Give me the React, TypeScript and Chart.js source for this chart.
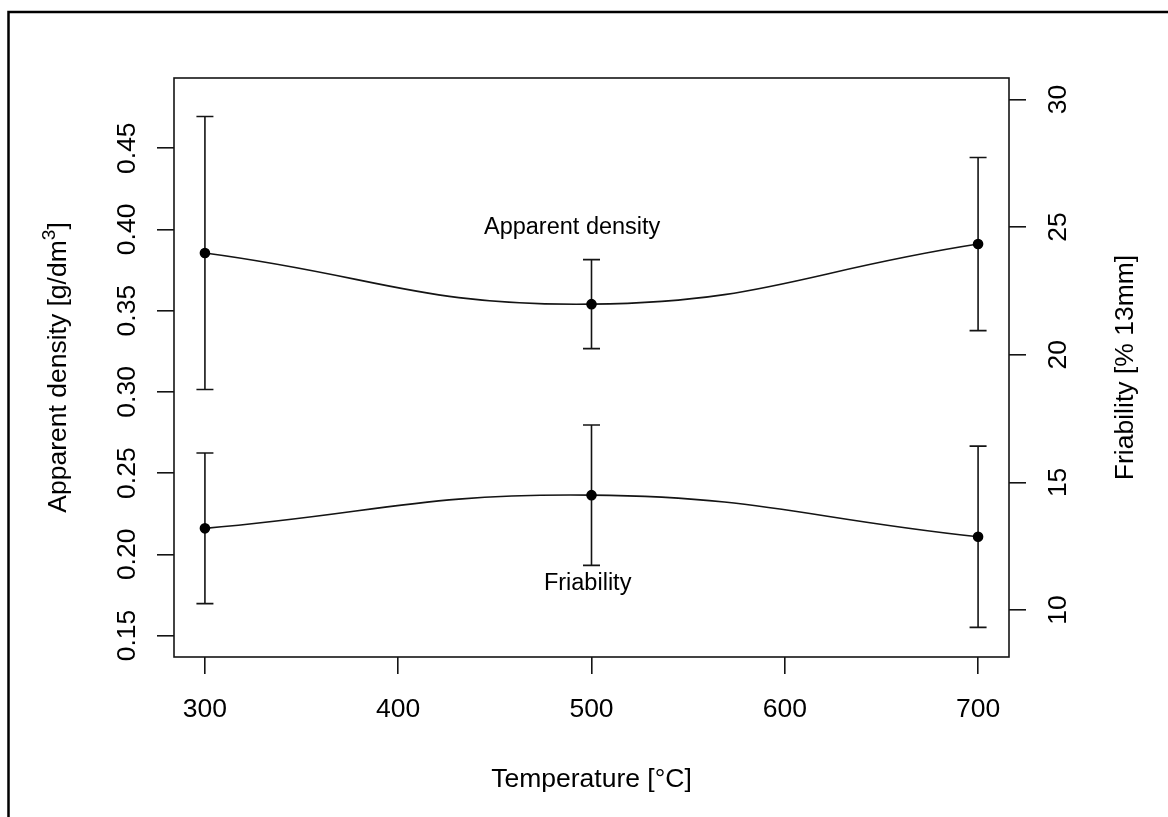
import { useEffect, useRef } from "react";
import { Chart, registerables } from "chart.js";

Chart.register(...registerables);

// Temperatures at which the material was characterised
const temperatures = [300, 500, 700];

// Apparent density (left axis) — mean and standard deviation
const densityMean = [0.3855, 0.354, 0.391];
const densitySd = [0.084, 0.0274, 0.0533];

// Friability (right axis) — mean and standard deviation
const friabilityMean = [13.2, 14.5, 12.87];
const friabilitySd = [2.95, 2.75, 3.55];

// Axis ticks and their labels
const xTicks = [300, 400, 500, 600, 700];
const xTickLabels = ["300", "400", "500", "600", "700"];
const densityTicks = [0.15, 0.2, 0.25, 0.3, 0.35, 0.4, 0.45];
const densityTickLabels = ["0.15", "0.20", "0.25", "0.30", "0.35", "0.40", "0.45"];
const friabilityTicks = [10, 15, 20, 25, 30];
const friabilityTickLabels = ["10", "15", "20", "25", "30"];

const W = 1168;
const H = 817;
const INK = "#141414";
const FONT = "'Liberation Sans', Arial, Helvetica, sans-serif";
const AXIS_PX = 26.5;
const NOTE_PX = 23.5;

function drawRotated(ctx: CanvasRenderingContext2D, text: string, x: number, y: number) {
  ctx.save();
  ctx.translate(x, y);
  ctx.rotate(-Math.PI / 2);
  ctx.textAlign = "center";
  ctx.textBaseline = "alphabetic";
  ctx.fillText(text, 0, 0);
  ctx.restore();
}

const plotDecor = {
  id: "plotDecor",
  beforeDraw(chart: any) {
    const { ctx } = chart;
    ctx.save();
    ctx.fillStyle = "#fff";
    ctx.fillRect(0, 0, W, H);
    // outer figure frame
    ctx.strokeStyle = "#000";
    ctx.lineWidth = 2.5;
    ctx.beginPath();
    ctx.moveTo(8.5, H + 5);
    ctx.lineTo(8.5, 12);
    ctx.lineTo(W + 5, 12);
    ctx.stroke();
    ctx.restore();
  },
  beforeDatasetsDraw(chart: any) {
    const { ctx } = chart;
    ctx.save();
    ctx.strokeStyle = INK;
    ctx.lineWidth = 1.6;
    chart.data.datasets.forEach((ds: any) => {
      const yScale = chart.scales[ds.yAxisID];
      const xScale = chart.scales.x;
      ds.data.forEach((p: any, i: number) => {
        const sd = ds.errors[i];
        const px = xScale.getPixelForValue(p.x);
        const top = yScale.getPixelForValue(p.y + sd);
        const bot = yScale.getPixelForValue(p.y - sd);
        const cap = 8.5;
        ctx.beginPath();
        ctx.moveTo(px, top);
        ctx.lineTo(px, bot);
        ctx.moveTo(px - cap, top);
        ctx.lineTo(px + cap, top);
        ctx.moveTo(px - cap, bot);
        ctx.lineTo(px + cap, bot);
        ctx.stroke();
      });
    });
    ctx.restore();
  },
  afterDraw(chart: any) {
    const { ctx, chartArea: a, scales } = chart;
    ctx.save();
    // plot box
    ctx.strokeStyle = INK;
    ctx.lineWidth = 1.6;
    ctx.strokeRect(a.left, a.top, a.right - a.left, a.bottom - a.top);

    ctx.fillStyle = "#000";
    ctx.font = `${AXIS_PX}px ${FONT}`;

    // bottom tick labels
    ctx.textAlign = "center";
    ctx.textBaseline = "alphabetic";
    xTicks.forEach((v, i) => {
      ctx.fillText(xTickLabels[i], scales.x.getPixelForValue(v), a.bottom + 60);
    });
    // left tick labels (parallel to the axis)
    densityTicks.forEach((v, i) => {
      drawRotated(ctx, densityTickLabels[i], a.left - 39, scales.y.getPixelForValue(v));
    });
    // right tick labels
    friabilityTicks.forEach((v, i) => {
      drawRotated(ctx, friabilityTickLabels[i], a.right + 57, scales.y1.getPixelForValue(v));
    });

    const midX = (a.left + a.right) / 2;
    const midY = (a.top + a.bottom) / 2;

    // x-axis title
    ctx.textAlign = "center";
    ctx.fillText("Temperature [°C]", midX, a.bottom + 130);

    // left axis title with superscript exponent
    {
      const main = "Apparent density [g/dm";
      const close = "]";
      const supFont = `${AXIS_PX * 0.72}px ${FONT}`;
      const wMain = ctx.measureText(main).width;
      const wClose = ctx.measureText(close).width;
      ctx.font = supFont;
      const wSup = ctx.measureText("3").width;
      const total = wMain + wSup + wClose;
      ctx.save();
      ctx.translate(a.left - 108, midY);
      ctx.rotate(-Math.PI / 2);
      ctx.textAlign = "left";
      ctx.textBaseline = "alphabetic";
      let x0 = -total / 2;
      ctx.font = `${AXIS_PX}px ${FONT}`;
      ctx.fillText(main, x0, 0);
      x0 += wMain;
      ctx.font = supFont;
      ctx.fillText("3", x0, -11);
      x0 += wSup;
      ctx.font = `${AXIS_PX}px ${FONT}`;
      ctx.fillText(close, x0, 0);
      ctx.restore();
    }

    // right axis title
    ctx.font = `${AXIS_PX}px ${FONT}`;
    drawRotated(ctx, "Friability [% 13mm]", a.right + 124, midY);

    // curve annotations
    ctx.font = `${NOTE_PX}px ${FONT}`;
    ctx.textAlign = "center";
    ctx.textBaseline = "middle";
    ctx.fillText("Apparent density", scales.x.getPixelForValue(490), scales.y.getPixelForValue(0.401));
    ctx.fillText("Friability", scales.x.getPixelForValue(498), scales.y1.getPixelForValue(11.05));
    ctx.restore();
  },
};

const tickGrid = {
  display: true,
  drawOnChartArea: false,
  drawTicks: true,
  tickLength: 17,
  color: INK,
  lineWidth: 1.6,
};

export default function App() {
  const canvasRef = useRef<HTMLCanvasElement | null>(null);

  useEffect(() => {
    const canvas = canvasRef.current;
    if (!canvas) return;
    const chart = new Chart(canvas, {
      type: "line",
      data: {
        datasets: [
          {
            label: "Apparent density",
            data: temperatures.map((t, i) => ({ x: t, y: densityMean[i] })),
            errors: densitySd,
            yAxisID: "y",
            borderColor: INK,
            borderWidth: 1.6,
            backgroundColor: "#000",
            pointBackgroundColor: "#000",
            pointBorderColor: "#000",
            pointRadius: 4.5,
            tension: 0.45,
            fill: false,
          },
          {
            label: "Friability",
            data: temperatures.map((t, i) => ({ x: t, y: friabilityMean[i] })),
            errors: friabilitySd,
            yAxisID: "y1",
            borderColor: INK,
            borderWidth: 1.6,
            backgroundColor: "#000",
            pointBackgroundColor: "#000",
            pointBorderColor: "#000",
            pointRadius: 4.5,
            tension: 0.45,
            fill: false,
          },
        ] as any,
      },
      options: {
        responsive: false,
        animation: false,
        devicePixelRatio: 1,
        layout: { padding: { top: 78, left: 0, right: 0, bottom: 0 } },
        plugins: {
          legend: { display: false },
          tooltip: { enabled: false },
        },
        scales: {
          x: {
            type: "linear",
            min: 284,
            max: 716,
            grid: tickGrid,
            border: { display: false },
            ticks: { display: false },
            afterBuildTicks: (s: any) => {
              s.ticks = xTicks.map((v) => ({ value: v }));
            },
            afterFit: (s: any) => {
              s.height = 160;
            },
          },
          y: {
            type: "linear",
            position: "left",
            min: 0.1368,
            max: 0.4932,
            grid: tickGrid,
            border: { display: false },
            ticks: { display: false },
            afterBuildTicks: (s: any) => {
              s.ticks = densityTicks.map((v) => ({ value: v }));
            },
            afterFit: (s: any) => {
              s.width = 174;
            },
          },
          y1: {
            type: "linear",
            position: "right",
            min: 8.16,
            max: 30.84,
            grid: tickGrid,
            border: { display: false },
            ticks: { display: false },
            afterBuildTicks: (s: any) => {
              s.ticks = friabilityTicks.map((v) => ({ value: v }));
            },
            afterFit: (s: any) => {
              s.width = 159;
            },
          },
        },
      } as any,
      plugins: [plotDecor],
    });
    return () => chart.destroy();
  }, []);

  return (
    <div style={{ position: "fixed", left: 0, top: 0, width: W, height: H, background: "#fff" }}>
      <canvas ref={canvasRef} width={W} height={H} style={{ display: "block", width: W, height: H }} />
    </div>
  );
}
